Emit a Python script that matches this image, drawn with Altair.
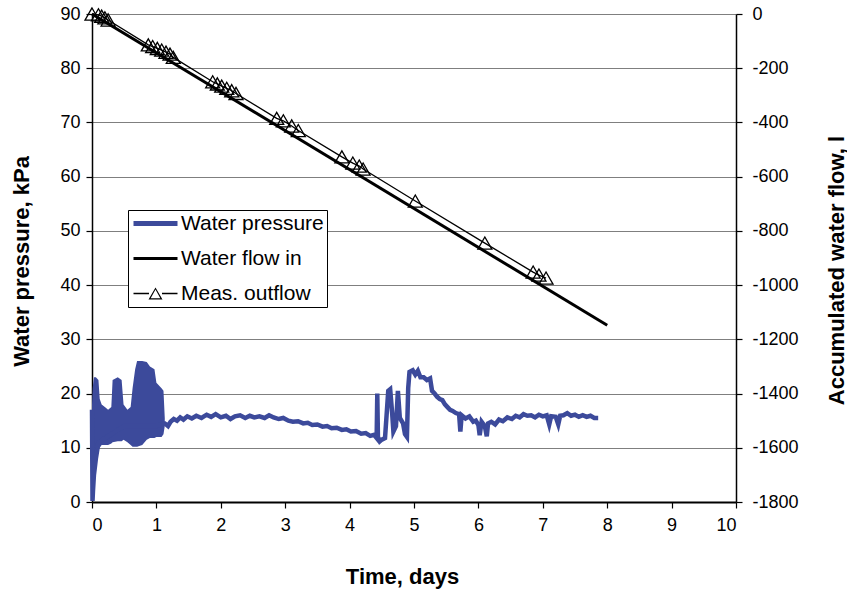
import altair as alt
import pandas as pd

FONT = "Liberation Sans"
BLUE = "#3C4A9B"

# ---- Water pressure trace (kPa) ----
p_time = [0.0, 0.008, 0.015, 0.03, 0.06, 0.10, 0.5, 1.0, 1.11,
          1.13, 1.18, 1.22, 1.27, 1.32, 1.37, 1.42, 1.48, 1.55, 1.62, 1.70, 1.78, 1.85, 1.92,
          2.00, 2.08, 2.15, 2.22, 2.30, 2.38, 2.45, 2.52, 2.60, 2.68, 2.75, 2.82, 2.90, 2.97,
          3.05, 3.12, 3.20, 3.28, 3.35, 3.42, 3.50, 3.58, 3.65, 3.72, 3.80, 3.88, 3.95,
          4.02, 4.10, 4.18, 4.25, 4.32, 4.38, 4.42, 4.43, 4.44, 4.47, 4.50, 4.55, 4.58, 4.60,
          4.63, 4.66, 4.68, 4.72, 4.75, 4.78, 4.83, 4.86, 4.89, 4.91, 4.93, 4.98,
          5.02, 5.06, 5.10, 5.15, 5.20, 5.25, 5.28, 5.32, 5.36, 5.40, 5.44, 5.48, 5.52, 5.56,
          5.60, 5.65, 5.70, 5.72, 5.74, 5.80, 5.86, 5.92, 5.96,
          6.00, 6.02, 6.05, 6.10, 6.13, 6.15, 6.20, 6.26, 6.32, 6.38, 6.45, 6.52, 6.58, 6.64,
          6.70, 6.76, 6.82, 6.88, 6.94, 7.00, 7.06, 7.10, 7.13, 7.20, 7.24, 7.27, 7.32, 7.38,
          7.44, 7.50, 7.56, 7.62, 7.68, 7.74, 7.80, 7.86]
p_kpa = [17.0, 0.2, 2.0, 5.0, 8.0, 11.0, 14.0, 14.0, 14.5,
         14.5, 14.0, 14.8, 15.3, 15.0, 15.6, 15.2, 15.8, 15.4, 15.9, 15.5, 16.1, 15.7, 16.2,
         15.6, 15.9, 15.3, 15.8, 16.0, 15.5, 15.9, 15.6, 15.8, 15.5, 16.0, 15.6, 15.3, 15.5,
         15.0, 14.8, 14.9, 14.5, 14.6, 14.2, 14.3, 13.9, 14.0, 13.6, 13.7, 13.3, 13.4,
         13.0, 13.1, 12.6, 12.7, 12.2, 12.4, 11.8, 20.0, 12.0, 11.2, 11.5, 11.8, 17.0, 20.5,
         20.8, 16.5, 13.0, 14.0, 20.5, 15.5, 14.5, 12.5, 12.0, 21.0, 24.0, 24.3,
         23.5, 24.2, 23.0, 23.0, 22.5, 22.8, 20.5, 20.0, 19.4, 19.0, 18.8, 18.0, 17.5, 17.0,
         16.8, 16.4, 16.2, 13.0, 16.0, 15.4, 15.8, 14.8, 15.0,
         14.2, 12.3, 14.8, 14.0, 12.1, 14.5, 14.8, 14.3, 15.2, 14.9, 15.6, 15.3, 15.9, 15.6,
         16.2, 15.9, 16.0, 15.6, 16.1, 15.8, 16.0, 14.3, 15.8, 15.7, 14.3, 15.9, 16.0, 16.4,
         15.9, 16.1, 15.7, 16.0, 15.7, 15.9, 15.5, 15.5]

# ---- Oscillating start-up period: envelope of the pressure record ----
band_time = [0.00, 0.01, 0.03, 0.06, 0.10, 0.12, 0.15, 0.20, 0.25, 0.30, 0.32, 0.40, 0.46,
             0.49, 0.55, 0.60, 0.63, 0.67, 0.70, 0.78, 0.85, 0.90, 0.97, 1.00, 1.08, 1.11, 1.13]
band_low = [16.0, 3.0, 5.0, 7.5, 9.5, 10.0, 10.5, 10.5, 10.5, 10.8, 11.0, 11.2, 11.2,
            11.5, 11.0, 10.5, 10.2, 10.2, 10.2, 10.5, 11.5, 11.8, 11.8, 12.0, 12.0, 12.5, 14.0]
band_high = [18.0, 21.0, 23.0, 23.0, 22.5, 19.0, 18.0, 17.5, 17.0, 17.5, 22.5, 23.0, 22.5,
             18.0, 17.0, 17.5, 21.0, 24.5, 26.0, 26.0, 25.8, 25.0, 24.5, 22.0, 21.0, 20.5, 15.5]

# ---- Accumulated water flow (l) ----
in_time = [0.0, 8.0]
in_flow = [0.0, -1148.0]

out_time = [0.0, 0.10, 0.15, 0.20, 0.25,
            0.874, 0.942, 1.014, 1.082, 1.149, 1.211, 1.262,
            1.874, 1.946, 2.014, 2.092, 2.169, 2.236,
            2.868, 2.971, 3.101, 3.203,
            3.88, 4.05, 4.15, 4.21,
            5.02, 6.10, 6.85, 6.94, 7.05]
out_flow = [0.0, -3.0, -8.0, -14.0, -22.0,
            -114.0, -120.0, -127.0, -133.0, -141.0, -148.0, -160.0,
            -250.0, -258.0, -266.0, -274.0, -283.0, -293.0,
            -385.0, -394.0, -413.0, -430.0,
            -527.0, -550.0, -561.0, -572.0,
            -690.0, -845.0, -952.0, -963.0, -974.0]

legend_names = ["Water pressure", "Water flow in", "Meas. outflow"]
legend_colors = [BLUE, "black", "black"]
legend_shapes = [
    "M-0.8,-0.25H3.6V0.25H-0.8Z",
    "M-0.8,-0.16H3.6V0.16H-0.8Z",
    "M-0.8,-0.065H0.75V0.065H-0.8Z M2.05,-0.065H3.6V0.065H2.05Z "
    "M1.4,-0.6L2.1,0.6L0.7,0.6Z M1.4,-0.4L0.92,0.47L1.88,0.47Z",
]

press_df = pd.DataFrame({"t": p_time, "p": p_kpa})
band_df = pd.DataFrame({"t": band_time, "low": band_low, "high": band_high})
in_df = pd.DataFrame({"t": in_time, "f": in_flow})
out_df = pd.DataFrame({"t": out_time, "f": out_flow})
leg_df = pd.DataFrame({"series": legend_names})


def x_enc():
    return alt.X(
        "t:Q",
        scale=alt.Scale(domain=[0, 10], nice=False, zero=False),
        axis=alt.Axis(
            title="Time, days", values=list(range(0, 11)), grid=False,
            domainColor="black", domainWidth=2, tickColor="black", tickWidth=1.2,
            tickSize=6, labelPadding=8, labelFontSize=18, titleFontSize=22,
            titleFontWeight="bold", titleX=310, titleY=81, titleBaseline="alphabetic",
        ),
    )


left_axis = alt.Axis(
    title="Water pressure, kPa", values=list(range(0, 91, 10)), grid=True,
    gridColor="#7f7f7f", gridWidth=1, domainColor="black", domainWidth=1.5,
    tickColor="black", tickWidth=1.2, tickSize=6, labelPadding=6, labelFontSize=18,
    titleFontSize=22, titleFontWeight="bold", titleAngle=270, titleX=-64, titleY=247,
    titleBaseline="alphabetic",
)
right_axis = alt.Axis(
    title="Accumulated water flow, l", orient="right", values=list(range(-1800, 1, 200)),
    labelExpr="datum.value + ''",
    grid=False, domainColor="black", domainWidth=1.5, tickColor="black", tickWidth=1.2,
    tickSize=6, labelPadding=10, labelFontSize=18, titleFontSize=22, titleFontWeight="bold",
    titleAngle=270, titleX=107, titleY=256, titleBaseline="alphabetic",
)
y_left_scale = alt.Scale(domain=[0, 90], nice=False, zero=False)
y_right_scale = alt.Scale(domain=[-1800, 0], nice=False, zero=False)

band = alt.Chart(band_df).mark_area(color=BLUE, opacity=1, interpolate="linear").encode(
    x=x_enc(),
    y=alt.Y("low:Q", scale=y_left_scale, axis=left_axis),
    y2="high:Q",
)
press = alt.Chart(press_df).mark_line(color=BLUE, strokeWidth=4.5).encode(
    x=x_enc(),
    y=alt.Y("p:Q", scale=y_left_scale, axis=left_axis),
)
left = alt.layer(band, press)

flow_in = alt.Chart(in_df).mark_line(color="black", strokeWidth=3).encode(
    x=x_enc(),
    y=alt.Y("f:Q", scale=y_right_scale, axis=right_axis),
)
meas_line = alt.Chart(out_df).mark_line(color="black", strokeWidth=1.3).encode(
    x=x_enc(),
    y=alt.Y("f:Q", scale=y_right_scale, axis=right_axis),
)
meas_pts = alt.Chart(out_df).mark_point(
    shape="triangle-up", filled=False, size=196, color="black", strokeWidth=1.3, opacity=1
).encode(
    x=x_enc(),
    y=alt.Y("f:Q", scale=y_right_scale, axis=right_axis),
)
right = alt.layer(flow_in, meas_line, meas_pts)

leg_props = dict(
    orient="none", legendX=36, legendY=196, title=None, fillColor="white",
    strokeColor="black", padding=3, labelFont=FONT, labelFontSize=21, labelColor="black",
    symbolSize=400, symbolStrokeWidth=0, rowPadding=13, labelOffset=29,
)
legend_layer = alt.Chart(leg_df).mark_point(filled=True, opacity=1).encode(
    color=alt.Color("series:N", scale=alt.Scale(domain=legend_names, range=legend_colors),
                    legend=alt.Legend(**leg_props)),
    shape=alt.Shape("series:N", scale=alt.Scale(domain=legend_names, range=legend_shapes),
                    legend=alt.Legend(**leg_props)),
).transform_filter(alt.datum.series == "__none__")

chart = (
    alt.layer(left, right, legend_layer)
    .resolve_scale(y="independent")
    .properties(
        width=644, height=488,
        padding={"left": 92, "top": 14, "right": 111, "bottom": 94},
        autosize=alt.AutoSizeParams(type="none"),
        background="white",
    )
    .configure_view(stroke=None)
    .configure_axis(labelFont=FONT, titleFont=FONT, labelColor="black", titleColor="black")
)

chart.save("out.html", embed_options={"renderer": "svg", "actions": False})
